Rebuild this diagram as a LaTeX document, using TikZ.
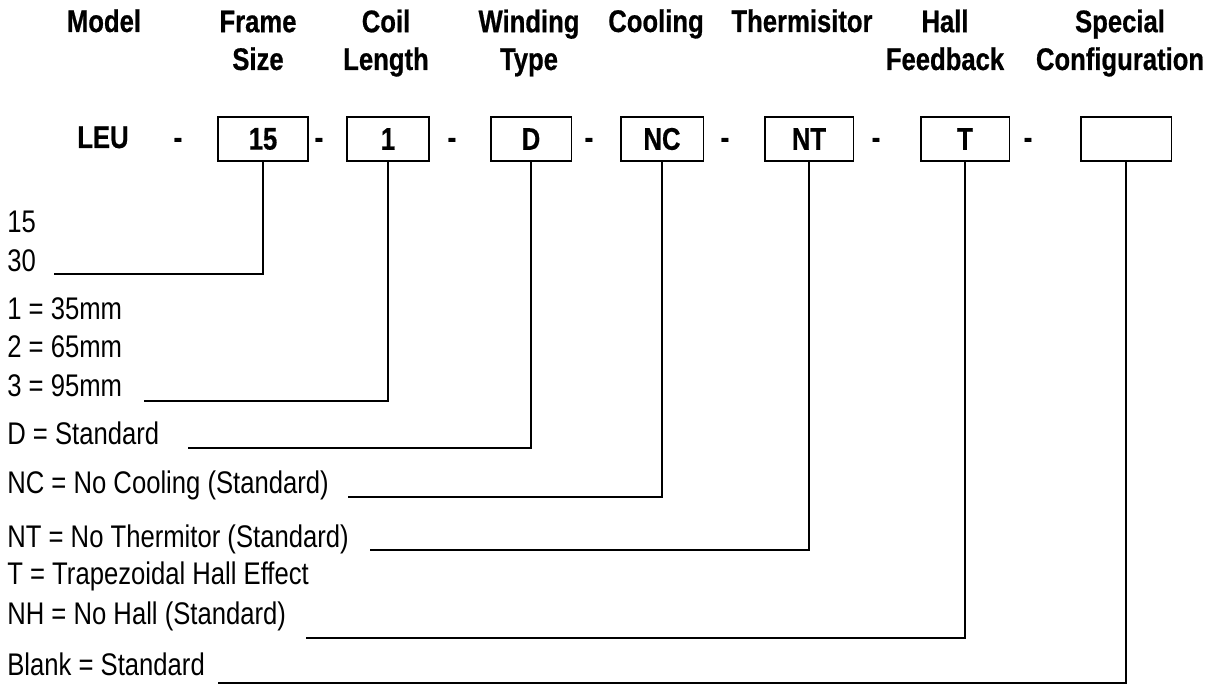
\documentclass[tikz,border=0pt]{standalone}
\usepackage{fontspec}
\setmainfont{Liberation Sans}[FakeStretch=0.82, BoldFeatures={FakeBold=0.6}]

\tikzset{
	head/.style={font=\bfseries\fontsize{17.8}{21.5}\selectfont, align=center, anchor=base, inner sep=0pt},
	codebox/.style={draw, line width=1.13pt, minimum width=#1, minimum height=0.88cm, inner sep=0pt, font=\bfseries\fontsize{17.8}{21}\selectfont},
	sep/.style={font=\bfseries\fontsize{17.8}{21}\selectfont, anchor=base, inner sep=0pt},
	opt/.style={font=\fontsize{17.8}{21}\selectfont, anchor=base west, inner sep=0pt},
	lead/.style={line width=1.13pt}
}

\begin{document}
\begin{tikzpicture}[x=0.02cm, y=-0.02cm]

	\useasboundingbox (0, 0) rectangle (1217, 685);

	\def\ybox{139}
	\def\ybase{148}
	\def\yone{32}
	\def\ytwo{70}

	\node[head] (hModel) at (104, \yone) {Model};
	\node[head] (hFrame) at (258, \ytwo) {Frame\\Size};
	\node[head] (hCoil) at (386, \ytwo) {Coil\\Length};
	\node[head] (hWinding) at (529, \ytwo) {Winding\\Type};
	\node[head] (hCooling) at (656, \yone) {Cooling};
	\node[head] (hTherm) at (802, \yone) {Thermisitor};
	\node[head] (hHall) at (945, \ytwo) {Hall\\Feedback};
	\node[head] (hSpecial) at (1120, \ytwo) {Special\\Configuration};

	\node[sep] (leu) at (103, \ybase) {LEU};
	\node[codebox=1.8cm] (b15) at (263, \ybox) {15};
	\node[codebox=1.64cm] (b1) at (388, \ybox) {1};
	\node[codebox=1.62cm] (bD) at (531, \ybox) {D};
	\node[codebox=1.66cm] (bNC) at (662, \ybox) {NC};
	\node[codebox=1.78cm] (bNT) at (809, \ybox) {NT};
	\node[codebox=1.78cm] (bT) at (965, \ybox) {T};
	\node[codebox=1.82cm] (bBlank) at (1126, \ybox) {};

	\node[sep] (d1) at (178, \ybase) {-};
	\node[sep] (d2) at (319, \ybase) {-};
	\node[sep] (d3) at (452, \ybase) {-};
	\node[sep] (d4) at (589, \ybase) {-};
	\node[sep] (d5) at (725, \ybase) {-};
	\node[sep] (d6) at (876, \ybase) {-};
	\node[sep] (d7) at (1028, \ybase) {-};

	\node[opt] (o15) at (7, 233) {15};
	\node[opt] (o30) at (7, 272) {30};
	\node[opt] (o35) at (7, 320) {1 = 35mm};
	\node[opt] (o65) at (7, 358) {2 = 65mm};
	\node[opt] (o95) at (7, 397) {3 = 95mm};
	\node[opt] (oD) at (7, 445) {D = Standard};
	\node[opt] (oNC) at (7, 494) {NC = No Cooling (Standard)};
	\node[opt] (oNT) at (7, 547) {NT = No Thermitor (Standard)};
	\node[opt] (oT) at (7, 584) {T = Trapezoidal Hall Effect};
	\node[opt] (oNH) at (7, 624) {NH = No Hall (Standard)};
	\node[opt] (oBlank) at (7, 675) {Blank = Standard};

	\coordinate (l15) at (54, 274);
	\coordinate (l1) at (144, 401);
	\coordinate (lD) at (188, 448);
	\coordinate (lNC) at (348, 497);
	\coordinate (lNT) at (370, 550);
	\coordinate (lT) at (306, 638);
	\coordinate (lBlank) at (218, 683);

	\draw[lead] (b15.south) |- (l15);
	\draw[lead] (b1.south) |- (l1);
	\draw[lead] (bD.south) |- (lD);
	\draw[lead] (bNC.south) |- (lNC);
	\draw[lead] (bNT.south) |- (lNT);
	\draw[lead] (bT.south) |- (lT);
	\draw[lead] (bBlank.south) |- (lBlank);

\end{tikzpicture}
\end{document}
